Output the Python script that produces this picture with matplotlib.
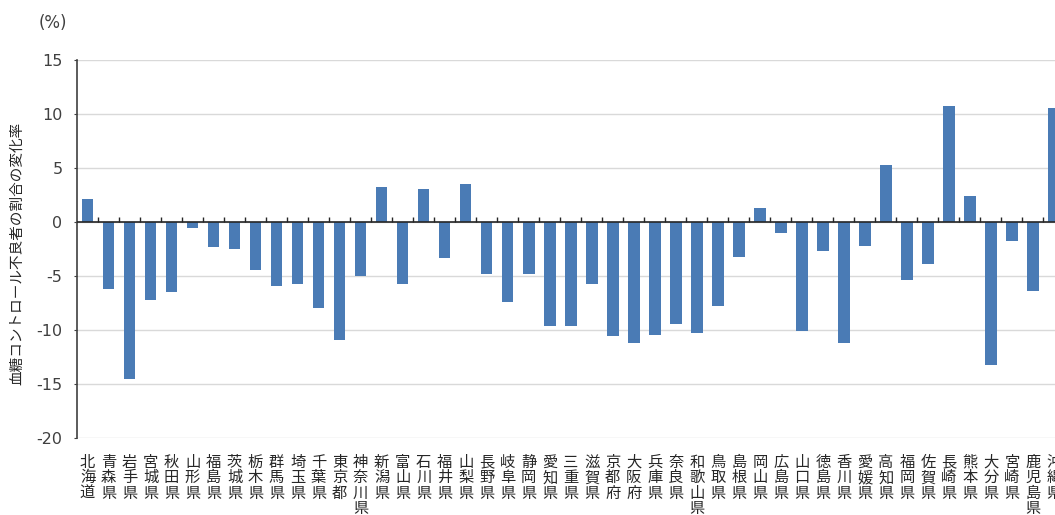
# coding=utf-8
"""
    Bar chart: change in the share of people with poor glycaemic control,
    by prefecture.
"""

import matplotlib
matplotlib.use('Agg')
import matplotlib.pyplot as plt
import numpy as np

plt.rcParams['font.family'] = ['DejaVu Sans', 'Noto Sans CJK JP']
plt.rcParams['axes.unicode_minus'] = False

prefectures = ['北海道', '青森県', '岩手県', '宮城県', '秋田県', '山形県', '福島県',
               '茨城県', '栃木県', '群馬県', '埼玉県', '千葉県', '東京都', '神奈川県',
               '新潟県', '富山県', '石川県', '福井県', '山梨県', '長野県', '岐阜県',
               '静岡県', '愛知県', '三重県', '滋賀県', '京都府', '大阪府', '兵庫県',
               '奈良県', '和歌山県', '鳥取県', '島根県', '岡山県', '広島県', '山口県',
               '徳島県', '香川県', '愛媛県', '高知県', '福岡県', '佐賀県', '長崎県',
               '熊本県', '大分県', '宮崎県', '鹿児島県', '沖縄県']
change_rate = [2.1, -6.2, -14.5, -7.2, -6.5, -0.6, -2.3,
               -2.5, -4.4, -5.9, -5.7, -8.0, -10.9, -5.0,
               3.2, -5.7, 3.1, -3.3, 3.5, -4.8, -7.4,
               -4.8, -9.6, -9.6, -5.7, -10.6, -11.2, -10.5,
               -9.4, -10.3, -7.8, -3.2, 1.3, -1.0, -10.1,
               -2.7, -11.2, -2.2, 5.3, -5.4, -3.9, 10.7,
               2.4, -13.2, -1.8, -6.4, 10.6]
y_ticks = [15, 10, 5, 0, -5, -10, -15, -20]
y_label = '血糖コントロール不良者の割合の変化率'
unit_label = '(%)'


def plot_bars(save_file):
    fig = plt.figure(figsize=(10.55, 5.15), dpi=100)
    # axes runs past the right edge on purpose, the last bar is cut off
    ax = fig.add_axes([77 / 1055, 77 / 515, 987.5 / 1055, 378 / 515])

    x = np.arange(len(prefectures))
    ax.bar(x, change_rate, width=0.55, color='#4a7bb5', zorder=2)

    ax.set_xlim(-0.5, len(prefectures) - 0.5)
    ax.set_ylim(-20, 15)
    ax.set_yticks(y_ticks)
    ax.yaxis.grid(True, color='#d9d9d9', lw=1)
    ax.set_axisbelow(True)

    for side in ['top', 'right', 'bottom']:
        ax.spines[side].set_visible(False)
    ax.spines['left'].set_color('#404040')
    ax.spines['left'].set_linewidth(1.2)

    # zero line with small ticks between the categories
    ax.axhline(0, color='#262626', lw=1.2, zorder=3)
    ax.vlines(x[1:] - 0.5, 0, 0.45, color='#262626', lw=1, zorder=3)

    ax.set_xticks(x)
    ax.set_xticklabels(['\n'.join(p) for p in prefectures], fontsize=11,
                       color='#262626', linespacing=1.05, va='top')
    ax.tick_params(axis='x', length=0, pad=12)
    ax.tick_params(axis='y', length=2.5, color='#404040', labelsize=11.5,
                   labelcolor='#404040', pad=8)

    fig.text(17 / 1055, 1 - 253 / 515, y_label, rotation=90, ha='center',
             va='center', fontsize=10.5, color='#262626')
    fig.text(53 / 1055, 1 - 23 / 515, unit_label, ha='center', va='center',
             fontsize=12, color='#404040')

    fig.savefig(save_file, dpi=100)


if __name__ == '__main__':
    plot_bars('out.png')
